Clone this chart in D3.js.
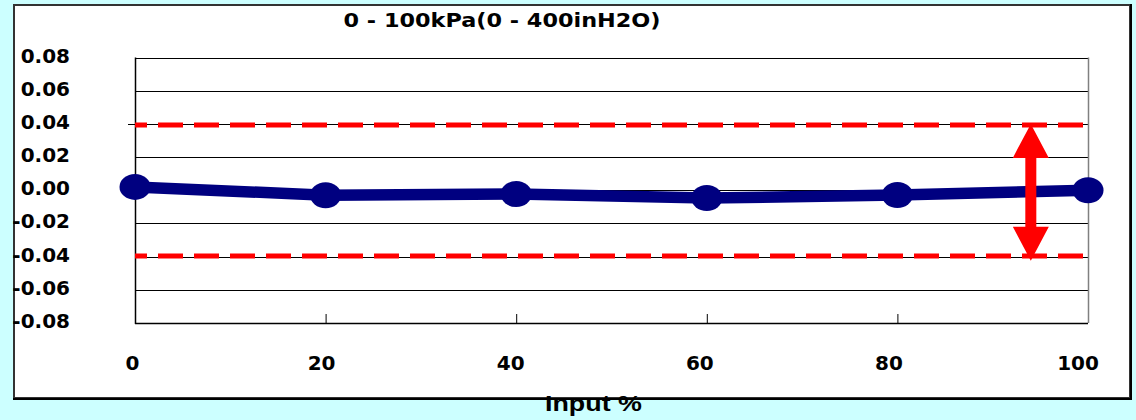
<!DOCTYPE html>
<html>
<head>
<meta charset="utf-8">
<script src="https://cdn.jsdelivr.net/npm/d3@7"></script>
<style>
  html, body { margin: 0; padding: 0; background: #ccffff; }
  svg { display: block; }
</style>
</head>
<body>
<svg id="chart" width="1136" height="420"></svg>
<script>
// data
var inputPct = [0, 20, 40, 60, 80, 100];
var errorPct = [0.002, -0.003, -0.0023, -0.0047, -0.0029, 0.0];
var yTicks = [0.08, 0.06, 0.04, 0.02, 0.0, -0.02, -0.04, -0.06, -0.08];
var xTicks = [0, 20, 40, 60, 80, 100];
var limits = [0.0393, -0.0396];   // red dashed spec lines
var arrowAt = 94;                 // x of the double arrow
var arrowSpan = [0.04, -0.0425];

var title = "0 - 100kPa(0 - 400inH2O)";
var xTitle = "Input %";

var svg = d3.select("#chart");

var x = d3.scaleLinear().domain([0, 100]).range([135, 1088]);
var xl = d3.scaleLinear().domain([0, 100]).range([132.5, 1078]);  // labels sit a bit left
var y = d3.scaleLinear().domain([-0.08, 0.08]).range([323, 57.5]);

// plain hyphen minus like the original
var fmt = d3.formatLocale({decimal: ".", thousands: ",", grouping: [3], currency: ["", ""], minus: "-"}).format(".2f");

// outer white panel, darker edge right/bottom
svg.append("rect")
  .attr("x", 14).attr("y", 5).attr("width", 1116).attr("height", 393)
  .attr("fill", "#fff").attr("stroke", "#333").attr("stroke-width", 2);
svg.append("path")
  .attr("d", "M1131,4 V399 H13")
  .attr("fill", "none").attr("stroke", "#000").attr("stroke-width", 2);

// grid
svg.append("g").selectAll("line")
  .data(yTicks)
  .join("line")
    .attr("x1", x(0)).attr("x2", x(100))
    .attr("y1", d => Math.round(y(d)) + 0.5).attr("y2", d => Math.round(y(d)) + 0.5)
    .attr("stroke", "#000").attr("stroke-width", 1);

// small outside tick at 0.04
svg.append("line")
  .attr("x1", x(0) - 7).attr("x2", x(0))
  .attr("y1", Math.round(y(0.04)) + 0.5).attr("y2", Math.round(y(0.04)) + 0.5)
  .attr("stroke", "#000");

// right border (grey) and axes
svg.append("line")
  .attr("x1", x(100) + 0.5).attr("x2", x(100) + 0.5)
  .attr("y1", y(0.08)).attr("y2", y(-0.08))
  .attr("stroke", "#808080").attr("stroke-width", 1.5);
svg.append("line")
  .attr("x1", x(0) + 0.5).attr("x2", x(0) + 0.5)
  .attr("y1", y(0.08)).attr("y2", y(-0.08) + 1)
  .attr("stroke", "#000").attr("stroke-width", 1.5);
svg.append("line")
  .attr("x1", x(0)).attr("x2", x(100))
  .attr("y1", y(-0.08) + 0.5).attr("y2", y(-0.08) + 0.5)
  .attr("stroke", "#000").attr("stroke-width", 1.5);

// x ticks (inward)
svg.append("g").selectAll("line")
  .data(xTicks.slice(1, -1))
  .join("line")
    .attr("x1", d => x(d) + 0.5).attr("x2", d => x(d) + 0.5)
    .attr("y1", y(-0.08) - 9).attr("y2", y(-0.08))
    .attr("stroke", "#000");

// red dashed limit lines
svg.append("g").selectAll("line")
  .data(limits)
  .join("line")
    .attr("x1", x(0)).attr("x2", 1084)
    .attr("y1", d => y(d)).attr("y2", d => y(d))
    .attr("stroke", "#ff0000").attr("stroke-width", 5)
    .attr("stroke-dasharray", "25,11").attr("stroke-dashoffset", 13);

// data line
var pts = inputPct.map((v, i) => [v, errorPct[i]]);
svg.append("path")
  .datum(pts)
  .attr("d", d3.line().x(d => x(d[0])).y(d => y(d[1])))
  .attr("fill", "none").attr("stroke", "#000080").attr("stroke-width", 11.5)
  .attr("stroke-linejoin", "round");

svg.append("g").selectAll("ellipse")
  .data(pts)
  .join("ellipse")
    .attr("cx", d => x(d[0])).attr("cy", d => y(d[1]))
    .attr("rx", 15.5).attr("ry", 13)
    .attr("fill", "#000080");

// double headed arrow
var ax = x(arrowAt), at = y(arrowSpan[0]), ab = y(arrowSpan[1]);
var hw = 18, hh = 34, sw = 5.5;
svg.append("path")
  .attr("d", [
    "M", ax, at,
    "L", ax + hw, at + hh, "L", ax + sw, at + hh,
    "L", ax + sw, ab - hh, "L", ax + hw, ab - hh,
    "L", ax, ab,
    "L", ax - hw, ab - hh, "L", ax - sw, ab - hh,
    "L", ax - sw, at + hh, "L", ax - hw, at + hh, "Z"
  ].join(" "))
  .attr("fill", "#ff0000");

// y labels
svg.append("g").selectAll("text")
  .data(yTicks)
  .join("text")
    .attr("x", 70).attr("y", d => y(d) + 5)
    .attr("text-anchor", "end")
    .attr("font-family", "DejaVu Sans").attr("font-weight", "bold").attr("font-size", 20)
    .text(d => fmt(d));

// x labels
svg.append("g").selectAll("text")
  .data(xTicks)
  .join("text")
    .attr("x", d => xl(d)).attr("y", 370)
    .attr("text-anchor", "middle")
    .attr("font-family", "DejaVu Sans").attr("font-weight", "bold").attr("font-size", 20)
    .text(d => d);

// title
svg.append("text")
  .attr("x", 502).attr("y", 27)
  .attr("text-anchor", "middle")
  .attr("font-family", "DejaVu Sans").attr("font-weight", "bold").attr("font-size", 20)
  .attr("textLength", 317).attr("lengthAdjust", "spacingAndGlyphs")
  .text(title);

// x title, condensed, over the panel edge
svg.append("text")
  .attr("x", 545).attr("y", 411)
  .attr("font-family", "Liberation Sans").attr("font-weight", "bold").attr("font-size", 22)
  .attr("textLength", 97).attr("lengthAdjust", "spacingAndGlyphs")
  .text(xTitle);
</script>
</body>
</html>
